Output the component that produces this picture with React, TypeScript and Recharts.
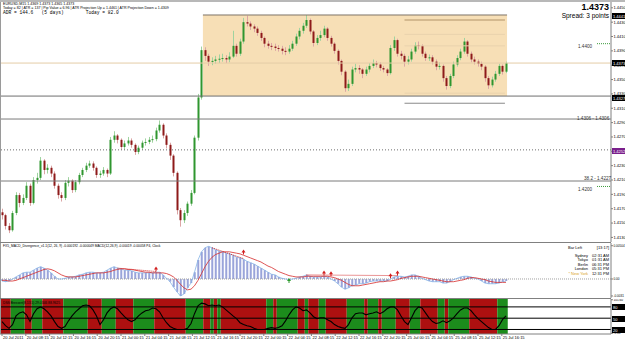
import { ComposedChart, Bar, Line, XAxis, YAxis, ReferenceArea, ReferenceLine, Scatter } from 'recharts'

// EURUSD M15, 20 Jul 2011 - 25 Jul 2011 (one candle here ~ two bars of the original)
const firstOpen = 1.4165
const closes = [
  1.4161, 1.4146, 1.4140, 1.4164, 1.4189, 1.4178, 1.4185, 1.4202, 1.4178, 1.4210,
  1.4213, 1.4237, 1.4224, 1.4227, 1.4219, 1.4202, 1.4189, 1.4185, 1.4206, 1.4209,
  1.4196, 1.4207, 1.4217, 1.4224, 1.4230, 1.4233, 1.4227, 1.4217, 1.4219, 1.4224,
  1.4219, 1.4266, 1.4272, 1.4266, 1.4256, 1.4261, 1.4265, 1.4259, 1.4249, 1.4255,
  1.4262, 1.4263, 1.4266, 1.4267, 1.4279, 1.4287, 1.4272, 1.4259, 1.4244, 1.4220,
  1.4168, 1.4154, 1.4164, 1.4177, 1.4192, 1.4269, 1.4325, 1.4391, 1.4383, 1.4375,
  1.4376, 1.4378, 1.4379, 1.4380, 1.4378, 1.4382, 1.4397, 1.4386, 1.4403, 1.4430,
  1.4428, 1.4424, 1.4421, 1.4415, 1.4408, 1.4400, 1.4397, 1.4396, 1.4394, 1.4393,
  1.4390, 1.4389, 1.4393, 1.4400, 1.4410, 1.4418, 1.4425, 1.4433, 1.4417, 1.4401,
  1.4408, 1.4412, 1.4421, 1.4408, 1.4400, 1.4390, 1.4376, 1.4361, 1.4338, 1.4344,
  1.4364, 1.4366, 1.4364, 1.4358, 1.4364, 1.4369, 1.4373, 1.4371, 1.4366, 1.4364,
  1.4359, 1.4394, 1.4405, 1.4386, 1.4383, 1.4375, 1.4378, 1.4389, 1.4398, 1.4397,
  1.4386, 1.4380, 1.4381, 1.4375, 1.4368, 1.4369, 1.4352, 1.4341, 1.4355, 1.4371,
  1.4380, 1.4389, 1.4403, 1.4386, 1.4378, 1.4375, 1.4372, 1.4368, 1.4352, 1.4342,
  1.4350, 1.4358, 1.4369, 1.4361, 1.4373,
]
const highs = [
  1.4170, 1.4163, 1.4150, 1.4167, 1.4193, 1.4192, 1.4190, 1.4207, 1.4205, 1.4214,
  1.4220, 1.4242, 1.4239, 1.4232, 1.4230, 1.4222, 1.4205, 1.4193, 1.4210, 1.4214,
  1.4211, 1.4210, 1.4220, 1.4227, 1.4234, 1.4237, 1.4236, 1.4229, 1.4223, 1.4228,
  1.4226, 1.4270, 1.4278, 1.4274, 1.4268, 1.4265, 1.4270, 1.4268, 1.4261, 1.4258,
  1.4265, 1.4268, 1.4270, 1.4272, 1.4283, 1.4293, 1.4289, 1.4275, 1.4262, 1.4246,
  1.4222, 1.4171, 1.4168, 1.4180, 1.4196, 1.4272, 1.4330, 1.4396, 1.4395, 1.4386,
  1.4381, 1.4383, 1.4385, 1.4386, 1.4384, 1.4388, 1.4418, 1.4400, 1.4407, 1.4436,
  1.4439, 1.4431, 1.4427, 1.4424, 1.4418, 1.4410, 1.4404, 1.4401, 1.4400, 1.4398,
  1.4397, 1.4395, 1.4398, 1.4404, 1.4414, 1.4422, 1.4429, 1.4440, 1.4435, 1.4419,
  1.4412, 1.4418, 1.4425, 1.4423, 1.4411, 1.4402, 1.4392, 1.4378, 1.4363, 1.4350,
  1.4368, 1.4372, 1.4370, 1.4366, 1.4368, 1.4373, 1.4378, 1.4376, 1.4374, 1.4369,
  1.4366, 1.4398, 1.4410, 1.4407, 1.4390, 1.4386, 1.4383, 1.4393, 1.4402, 1.4403,
  1.4399, 1.4389, 1.4385, 1.4384, 1.4378, 1.4374, 1.4371, 1.4355, 1.4358, 1.4375,
  1.4384, 1.4393, 1.4408, 1.4405, 1.4389, 1.4382, 1.4378, 1.4375, 1.4370, 1.4355,
  1.4354, 1.4362, 1.4372, 1.4371, 1.4375,
]
const lows = [
  1.4155, 1.4141, 1.4136, 1.4138, 1.4161, 1.4172, 1.4175, 1.4182, 1.4174, 1.4176,
  1.4205, 1.4210, 1.4218, 1.4219, 1.4214, 1.4198, 1.4184, 1.4180, 1.4182, 1.4201,
  1.4192, 1.4193, 1.4204, 1.4214, 1.4221, 1.4227, 1.4223, 1.4213, 1.4213, 1.4216,
  1.4214, 1.4217, 1.4262, 1.4261, 1.4252, 1.4252, 1.4258, 1.4255, 1.4245, 1.4246,
  1.4252, 1.4258, 1.4260, 1.4262, 1.4264, 1.4276, 1.4268, 1.4254, 1.4238, 1.4215,
  1.4162, 1.4145, 1.4150, 1.4160, 1.4174, 1.4190, 1.4265, 1.4322, 1.4376, 1.4369,
  1.4370, 1.4372, 1.4373, 1.4375, 1.4373, 1.4374, 1.4380, 1.4382, 1.4383, 1.4400,
  1.4424, 1.4419, 1.4416, 1.4411, 1.4404, 1.4395, 1.4393, 1.4391, 1.4390, 1.4389,
  1.4385, 1.4384, 1.4386, 1.4390, 1.4397, 1.4406, 1.4414, 1.4422, 1.4413, 1.4396,
  1.4398, 1.4404, 1.4409, 1.4404, 1.4396, 1.4386, 1.4371, 1.4356, 1.4333, 1.4334,
  1.4341, 1.4360, 1.4358, 1.4352, 1.4355, 1.4360, 1.4366, 1.4367, 1.4362, 1.4360,
  1.4355, 1.4357, 1.4390, 1.4382, 1.4378, 1.4368, 1.4371, 1.4375, 1.4386, 1.4392,
  1.4382, 1.4376, 1.4376, 1.4371, 1.4363, 1.4364, 1.4347, 1.4336, 1.4338, 1.4352,
  1.4368, 1.4377, 1.4386, 1.4382, 1.4374, 1.4371, 1.4368, 1.4363, 1.4347, 1.4337,
  1.4339, 1.4347, 1.4355, 1.4357, 1.4359,
]

// MACD histogram and signal, in units of 0.0001
const macdHist = [
  -3, -4, -3, 0, 3, 6, 9, 10, 10, 13, 16, 18, 16, 13, 9, 4, 0, 0, 1, 3,
  3, 4, 6, 7, 9, 10, 10, 9, 9, 10, 13, 16, 18, 16, 15, 13, 13, 12, 10, 9,
  9, 9, 9, 9, 10, 10, 6, 1, -4, -12, -19, -25, -22, -13, -6, 10, 28, 40, 46, 48,
  46, 43, 41, 40, 38, 37, 35, 32, 31, 29, 26, 24, 22, 19, 16, 13, 10, 7, 6, 3,
  1, 0, -1, 0, 1, 3, 4, 6, 4, 3, 3, 3, 4, 3, 0, -3, -7, -12, -15, -13,
  -10, -9, -7, -7, -6, -4, -3, -3, -3, -3, -3, 0, 3, 4, 4, 3, 4, 6, 6, 4,
  1, -1, -3, -4, -4, -4, -6, -6, -4, -1, 1, 3, 4, 4, 3, 1, 0, -3, -6, -7,
  -7, -7, -6, -4, -3,
]
const macdSignal = [
  -2, -2, -3, -3, -2, 0, 2, 4, 6, 8, 10, 12, 14, 15, 14, 12, 9, 6, 4, 3,
  3, 3, 4, 5, 6, 7, 8, 9, 9, 9, 10, 11, 13, 14, 15, 15, 14, 14, 13, 12,
  11, 10, 10, 9, 9, 9, 9, 8, 6, 3, -2, -8, -13, -16, -15, -10, -2, 8, 18, 26,
  32, 36, 38, 40, 40, 40, 39, 38, 37, 35, 33, 31, 29, 27, 25, 22, 19, 17, 14, 11,
  9, 7, 5, 4, 3, 3, 3, 4, 4, 4, 4, 4, 4, 4, 3, 2, 0, -2, -5, -8,
  -10, -10, -10, -9, -8, -7, -6, -5, -4, -4, -3, -3, -2, -1, 1, 2, 3, 4, 4, 4,
  3, 2, 1, 0, -1, -2, -3, -4, -4, -4, -3, -2, -1, 1, 2, 2, 1, 0, -1, -3,
  -4, -5, -5, -5, -5,
]
const redArrows = [44, 69, 92, 94, 111, 113]
const greenArrows = [82]

const stoch = [
  41, 30, 23, 33, 56, 64, 67, 59, 41, 62, 75, 80, 75, 67, 56, 41, 28, 23, 28, 43,
  56, 67, 75, 83, 85, 83, 72, 56, 33, 46, 64, 75, 80, 75, 64, 54, 46, 41, 46, 56,
  64, 70, 72, 77, 75, 67, 51, 38, 28, 23, 20, 20, 20, 23, 36, 62, 83, 90, 88, 83,
  85, 83, 85, 80, 72, 64, 56, 49, 38, 33, 30, 28, 23, 20, 20, 20, 23, 25, 23, 25,
  30, 43, 59, 72, 80, 77, 70, 72, 64, 54, 49, 51, 51, 46, 41, 33, 28, 25, 23, 33,
  51, 62, 64, 64, 59, 62, 64, 67, 62, 67, 75, 80, 80, 72, 56, 41, 33, 51, 70, 80,
  77, 64, 51, 41, 36, 38, 43, 38, 43, 51, 62, 72, 77, 77, 70, 59, 49, 41, 33, 25,
  20, 20, 30, 46, 56,
]
// colour of the background strip behind each bar (g = green, r = red)
const trend =
  'rrrggggrrg' + 'ggrrrrrrgg' + 'gggggrrrrg' + 'gggrrrrrgg' + 'ggggrrrrrr' +
  'rrrgggggrr' + 'grgrrrrrrr' + 'rrrrrrggrg' + 'gggggrrgrr' + 'rggrrrrrrg' +
  'ggggrgggrg' + 'gggrrrrggg' + 'rrrrrggrgg' + 'ggggrrrrrr' + 'rrggg'

const xLabels = [
  '20 Jul 2011', '20 Jul 08:15', '20 Jul 12:15', '20 Jul 16:15', '20 Jul 20:15',
  '21 Jul 00:15', '21 Jul 04:15', '21 Jul 08:15', '21 Jul 12:15', '21 Jul 16:15',
  '21 Jul 20:15', '22 Jul 00:15', '22 Jul 04:15', '22 Jul 08:15', '22 Jul 12:15',
  '22 Jul 16:15', '22 Jul 20:15', '25 Jul 00:15', '25 Jul 04:15', '25 Jul 08:15',
  '25 Jul 12:15', '25 Jul 16:15',
]
const priceTicks = [
  1.4450, 1.4430, 1.4410, 1.4390, 1.4370, 1.4350, 1.4330, 1.4310, 1.4290,
  1.4270, 1.4250, 1.4230, 1.4210, 1.4190, 1.4170, 1.4150, 1.4130,
]
const macdTicks = [0.0049, 0, -0.0025]
const macdTickLabels = ['0.00504', '0.00', '-0.0031']

const data = closes.map((c, i) => ({
  i,
  open: i === 0 ? firstOpen : closes[i - 1],
  close: c,
  high: highs[i],
  low: lows[i],
  hl: [lows[i], highs[i]],
  macd: macdHist[i] / 10000,
  signal: macdSignal[i] / 10000,
  stoch: stoch[i],
}))

const runs: { from: number; to: number; c: string }[] = []
for (let i = 0; i < trend.length; i++) {
  const last = runs[runs.length - 1]
  if (last && last.c === trend[i]) last.to = i
  else runs.push({ from: i, to: i, c: trend[i] })
}

const W = 625
const X_DOMAIN: [number, number] = [-0.29, 174]
const FONT = 'Liberation Sans, Arial, sans-serif'
const MARGIN = { top: 0, right: 0, bottom: 0, left: 1 }

function Candle(props: any) {
  const { x, y, width, height, payload } = props
  if (x == null || y == null) return null
  const top = Math.min(y, y + height)
  const h = Math.max(Math.abs(height), 1)
  const span = payload.high - payload.low || 1e-9
  const py = (v: number) => top + ((payload.high - v) / span) * h
  const up = payload.close >= payload.open
  const bTop = py(Math.max(payload.open, payload.close))
  const bH = Math.max(py(Math.min(payload.open, payload.close)) - bTop, 1)
  const cx = Math.round(x + width / 2) + 0.5
  return (
    <g>
      <line x1={cx} x2={cx} y1={top} y2={top + h} stroke={up ? '#9fd39f' : '#dba5a5'} strokeWidth={1} />
      <rect x={cx - 1} y={bTop} width={2} height={bH} fill={up ? '#2f962f' : '#8e1a1a'} />
    </g>
  )
}

function Arrow(props: any) {
  const { cx, cy, fill } = props
  if (cx == null) return null
  return <path d={`M${cx},${cy - 3} L${cx + 2},${cy} L${cx - 2},${cy} Z M${cx - 0.5},${cy} h1 v2 h-1 Z`} fill={fill} />
}

function TimeTick(props: any) {
  const { x, y, payload } = props
  return (
    <g>
      <line x1={x} x2={x} y1={y - 2} y2={y} stroke="#808080" />
      <text x={x + 1} y={y + 3.2} fontSize={4} fill="#000" fontFamily={FONT}>
        {xLabels[payload.index] ?? ''}
      </text>
    </g>
  )
}

function Box({ y, text, bg = '#000' }: { y: number; text: string; bg?: string }) {
  return (
    <g>
      <rect x={612} y={y - 3} width={13} height={6} fill={bg} />
      <text x={613} y={y + 1.5} fontSize={4} fill="#fff" fontFamily={FONT}>{text}</text>
    </g>
  )
}

export default function App() {
  const mainTick = { fontSize: 4, fill: '#000', fontFamily: FONT }
  const smallTick = { fontSize: 3.1, fill: '#000', fontFamily: FONT }
  return (
    <div style={{ position: 'absolute', left: 0, top: 0, width: W, height: 339, background: '#fff', overflow: 'hidden' }}>
      {/* price pane */}
      <div style={{ position: 'absolute', left: 0, top: 2 }}>
        <ComposedChart width={W} height={240} data={data} margin={MARGIN}>
          <XAxis dataKey="i" type="number" domain={X_DOMAIN} hide allowDataOverflow />
          <YAxis
            orientation="right"
            width={14}
            domain={[1.41236, 1.44581]}
            allowDataOverflow
            ticks={priceTicks}
            interval={0}
            tick={mainTick}
            tickSize={2}
            tickMargin={0.5}
            tickFormatter={(v: number) => v.toFixed(4)}
            stroke="#808080"
          />
          <ReferenceArea x1={57.4} x2={144.3} y1={1.4327} y2={1.4440} fill="#f7dfb6" fillOpacity={1} stroke="none" />
          <ReferenceLine segment={[{ x: 57.4, y: 1.4440 }, { x: 144.3, y: 1.4440 }]} stroke="#7d7468" />
          <ReferenceLine segment={[{ x: 115, y: 1.4433 }, { x: 143.7, y: 1.4433 }]} stroke="#c9ac82" strokeWidth={1.5} />
          <ReferenceLine segment={[{ x: 115, y: 1.4413 }, { x: 143.7, y: 1.4413 }]} stroke="#e9d2ad" />
          <ReferenceLine segment={[{ x: 115, y: 1.4397 }, { x: 143.7, y: 1.4397 }]} stroke="#e9d2ad" />
          <ReferenceLine segment={[{ x: 115, y: 1.4331 }, { x: 143.7, y: 1.4331 }]} stroke="#e9d2ad" />
          <ReferenceLine segment={[{ x: 115, y: 1.4317 }, { x: 143.7, y: 1.4317 }]} stroke="#8a8a8a" />
          <ReferenceLine y={1.4373} stroke="#e4cca6" />
          <ReferenceLine y={1.4327} stroke="#6e6e6e" />
          <ReferenceLine y={1.4295} stroke="#7a7a7a" />
          <ReferenceLine y={1.4252} stroke="#6e6e6e" strokeDasharray="1 2" />
          <ReferenceLine y={1.42086} stroke="#7a7a7a" />
          <ReferenceLine segment={[{ x: 170, y: 1.4400 }, { x: 174, y: 1.4400 }]} stroke="#3a9a3a" strokeDasharray="1 1" />
          <ReferenceLine segment={[{ x: 170, y: 1.4201 }, { x: 174, y: 1.4201 }]} stroke="#3a9a3a" strokeDasharray="1 1" />
          <Bar dataKey="hl" barSize={3} shape={<Candle />} isAnimationActive={false} />
        </ComposedChart>
      </div>

      {/* MACD pane */}
      <div style={{ position: 'absolute', left: 0, top: 243 }}>
        <ComposedChart width={W} height={55} data={data} margin={MARGIN}>
          <XAxis dataKey="i" type="number" domain={X_DOMAIN} hide allowDataOverflow />
          <YAxis
            orientation="right"
            width={14}
            domain={[-0.0028, 0.0053]}
            allowDataOverflow
            ticks={macdTicks}
            interval={0}
            tick={smallTick}
            tickSize={2}
            tickMargin={0.5}
            tickFormatter={(v: number) => macdTickLabels[macdTicks.indexOf(v)] ?? ''}
            stroke="#808080"
          />
          <ReferenceLine y={0} stroke="#a0a0a0" strokeDasharray="1 1" />
          <Bar dataKey="macd" barSize={2} fill="#9aa4da" isAnimationActive={false} />
          <Line dataKey="macd" stroke="#86b4e6" strokeWidth={0.8} dot={false} isAnimationActive={false} />
          <Line dataKey="signal" stroke="#d52a2a" strokeWidth={0.8} dot={false} isAnimationActive={false} />
          <ReferenceLine segment={[{ x: 33, y: 0.0016 }, { x: 44, y: 0.0011 }]} stroke="#d52a2a" strokeDasharray="1 1" />
          <ReferenceLine segment={[{ x: 60, y: 0.0046 }, { x: 69, y: 0.0030 }]} stroke="#d52a2a" strokeDasharray="1 1" />
          <ReferenceLine segment={[{ x: 87, y: 0.0006 }, { x: 113, y: 0.0005 }]} stroke="#d52a2a" strokeDasharray="1 1" />
          <Scatter
            data={redArrows.map(i => ({ i, v: Math.max(macdHist[i], macdSignal[i]) / 10000 + 0.0004 }))}
            dataKey="v"
            shape={<Arrow fill="#d21f1f" />}
            isAnimationActive={false}
          />
          <Scatter
            data={greenArrows.map(i => ({ i, v: -0.0003 }))}
            dataKey="v"
            shape={<Arrow fill="#2a9a2a" />}
            isAnimationActive={false}
          />
        </ComposedChart>
      </div>

      {/* stochastic pane */}
      <div style={{ position: 'absolute', left: 0, top: 299 }}>
        <ComposedChart width={W} height={40} data={data} margin={MARGIN}>
          <XAxis
            dataKey="i"
            type="number"
            domain={X_DOMAIN}
            allowDataOverflow
            ticks={xLabels.map((_, k) => k * 6.8)}
            interval={0}
            height={5}
            tickSize={0}
            tick={<TimeTick />}
            axisLine={false}
          />
          <YAxis
            orientation="right"
            width={14}
            domain={[8, 101]}
            allowDataOverflow
            ticks={[99, 10]}
            interval={0}
            tick={smallTick}
            tickSize={2}
            tickMargin={0.5}
            tickFormatter={(v: number) => (v === 99 ? '101.60' : '-1.60')}
            stroke="#808080"
          />
          {runs.map(r => (
            <ReferenceArea
              key={r.from}
              x1={r.from - 0.5}
              x2={r.to + 0.5}
              y1={8}
              y2={101}
              fill={r.c === 'g' ? '#1c8c1c' : '#ad1010'}
              fillOpacity={1}
              stroke="none"
              ifOverflow="hidden"
            />
          ))}
          <ReferenceLine y={80} stroke="#000" />
          <ReferenceLine y={50} stroke="#000" />
          <ReferenceLine y={20} stroke="#000" />
          <Line dataKey="stoch" stroke="#000" strokeWidth={1.1} dot={false} isAnimationActive={false} />
        </ComposedChart>
      </div>

      {/* texts drawn by the terminal on top of the chart */}
      <svg width={W} height={339} style={{ position: 'absolute', left: 0, top: 0, pointerEvents: 'none' }} fontFamily={FONT}>
        <rect x={0} y={0} width={W} height={2} fill="#b8b8b8" />
        <line x1={0.5} x2={0.5} y1={2} y2={334} stroke="#9a9a9a" />
        <line x1={0} x2={611} y1={242.5} y2={242.5} stroke="#808080" />
        <line x1={0} x2={611} y1={298.5} y2={298.5} stroke="#808080" />
        <line x1={0} x2={611} y1={334} y2={334} stroke="#808080" />

        <text x={3} y={5} fontSize={3.6} fill="#000">EURUSD,M15  1.4369 1.4373 1.4365 1.4373</text>
        <text x={3} y={9.2} fontSize={3.6} fill="#000">
          Today = 82  |  ATR = 137  |  Pip Value = 6.96  |  ATR Projection Up = 1.4461  |  ATR Projection Down = 1.4309
        </text>
        <text x={3} y={14} fontSize={4.6} fill="#000" fontFamily="Liberation Mono, monospace" xmlSpace="preserve">
          ADR = 144.6   (5 days)        Today = 82.0
        </text>

        <text x={609} y={10} fontSize={9} fontWeight="bold" textAnchor="end" fill="#000">1.4373</text>
        <text x={609} y={17.5} fontSize={6.5} textAnchor="end" fill="#000">Spread: 3 points</text>

        <text x={578} y={48} fontSize={4.6} fill="#333">1.4400</text>
        <text x={577} y={119.5} fontSize={4.6} fill="#333">1.4306 - 1.4306</text>
        <text x={584} y={180} fontSize={4.6} fill="#333">38.2 - 1.4227</text>
        <text x={578} y={191} fontSize={4.6} fill="#333">1.4200</text>

        <Box y={16} text="1.4441" />
        <Box y={63} text="1.4373" />
        <Box y={98} text="1.4327" />
        <Box y={151} text="1.4252" bg="#7a1f8c" />

        <text x={3} y={246.5} fontSize={3.3} fill="#000">
          FX5_MACD_Divergence_v1.1(12, 26, 9) -0.000192 -0.000049  MACD(12,26,9) -0.00019 -0.00058  P4, Clock
        </text>
        <g fontSize={4} fill="#000">
          <text x={582} y={249} textAnchor="end">Bar Left</text>
          <text x={609} y={249} textAnchor="end">[13:17]</text>
          {[
            ['Sydney', '02:31 AM', 256.5],
            ['Tokyo', '01:31 AM', 261],
            ['Berlin', '06:31 PM', 265.5],
            ['London', '05:31 PM', 270],
          ].map(([a, b, y]) => (
            <g key={a as string}>
              <text x={588} y={y as number} textAnchor="end">{a}</text>
              <text x={609} y={y as number} textAnchor="end">{b}</text>
            </g>
          ))}
          <text x={588} y={274.5} textAnchor="end" fill="#d9a21c">* New York</text>
          <text x={609} y={274.5} textAnchor="end">12:31 PM</text>
        </g>

        <text x={3} y={303.5} fontSize={3.3} fill="#000">DSS Bressert(8,13,5) 29.0346 88.9625</text>
        <Box y={307} text="80" />
        <Box y={319} text="50" />
        <Box y={330} text="20" />
      </svg>
    </div>
  )
}
